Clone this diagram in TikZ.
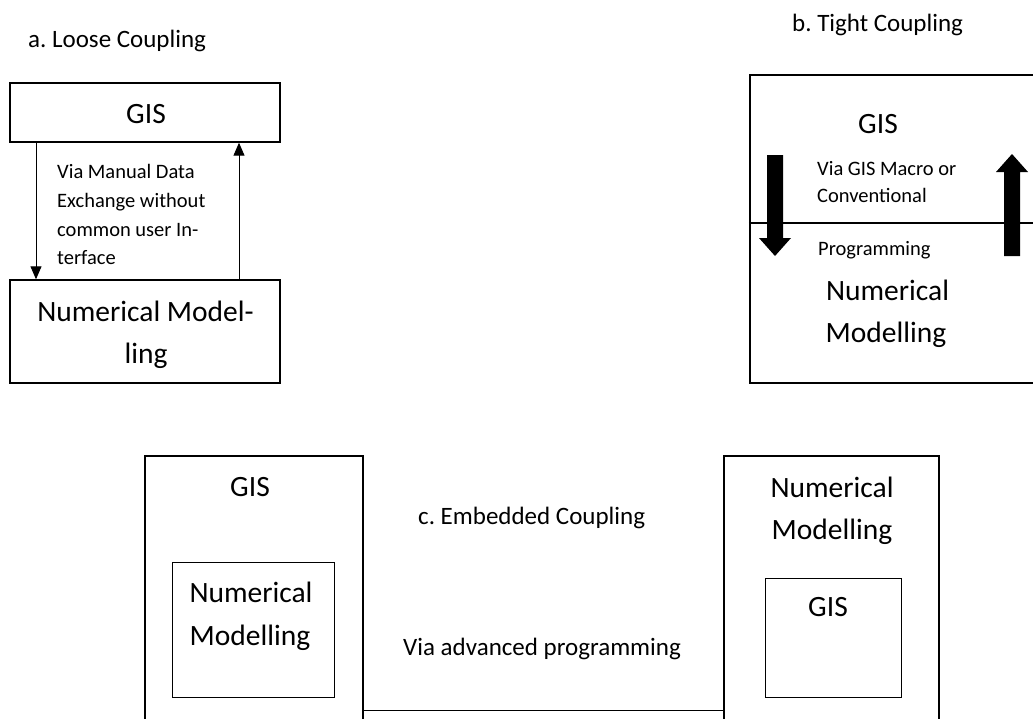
\documentclass[tikz,border=0pt]{standalone}
\usepackage{fontspec}
\setmainfont{Carlito}
\usetikzlibrary{arrows.meta}
\frenchspacing
\begin{document}
\begin{tikzpicture}[x=1pt,y=-1pt,
  box/.style={draw, line width=1.4pt, inner sep=0pt},
  thickbox/.style={draw, line width=2.2pt, inner sep=0pt},
  innerbox/.style={draw, line width=0.9pt, inner sep=0pt},
  label/.style={inner sep=0pt, font=\fontsize{25}{30}\selectfont},
  small/.style={inner sep=0pt, font=\fontsize{20.5}{25}\selectfont},
  mid/.style={inner sep=0pt, font=\fontsize{29.5}{36}\selectfont},
  thinarrow/.style={line width=1pt, -{Triangle[length=13pt,width=11pt]}}]
\clip (0,0) rectangle (1033,718);
\fill[white] (0,0) rectangle (1033,718);

% ---- a. Loose coupling ----
\node[label, anchor=base west] (ta) at (28,47) {a. Loose Coupling};
\node[box, minimum width=270pt, minimum height=59pt] (lgis) at (145,112.5) {};
\node[box, minimum width=270pt, minimum height=103pt] (lnm) at (145,331.5) {};
\node[mid, anchor=base] (lgist) at (146,123) {GIS};
\node[mid, anchor=base] (lnmt1) at (145.5,321) {Numerical Model-};
\node[mid, anchor=base] (lnmt2) at (146,363) {ling};
\node[small, anchor=base west] (lv1) at (57,178) {Via Manual Data};
\node[small, anchor=base west] (lv2) at (57,207) {Exchange without};
\node[small, anchor=base west] (lv3) at (57,236) {common user In-};
\node[small, anchor=base west] (lv4) at (57,264) {terface};
\coordinate (xd) at (36,0);
\coordinate (xu) at (239,0);
\draw[thinarrow] (lgis.south -| xd) -- (lnm.north -| xd);
\draw[thinarrow] (lnm.north -| xu) -- (lgis.south -| xu);

% ---- b. Tight coupling ----
\node[label, anchor=base west] (tb) at (792,31) {b. Tight Coupling};
\node[thickbox, minimum width=290pt, minimum height=308pt] (tbox) at (895,229) {};
\coordinate (ydiv) at (0,223);
\draw[line width=1.6pt] (tbox.west |- ydiv) -- (tbox.east |- ydiv);
\node[mid, anchor=base] (tgis) at (878,133) {GIS};
\node[small, anchor=base west] (tv1) at (817,175) {Via GIS Macro or};
\node[small, anchor=base west] (tv2) at (817,202) {Conventional};
\node[small, anchor=base west] (tv3) at (818,255) {Programming};
\node[mid, anchor=base] (tnm1) at (887.5,300) {Numerical};
\node[mid, anchor=base] (tnm2) at (886,342) {Modelling};
\fill (767,155) -- (783,155) -- (783,238) -- (791,238) -- (775,256) -- (759,238) -- (767,238) -- cycle;
\fill (1004,256) -- (1020,256) -- (1020,172) -- (1028,172) -- (1012,154) -- (996,172) -- (1004,172) -- cycle;

% ---- c. Embedded coupling ----
\node[box, minimum width=218pt, minimum height=274pt] (bl) at (254,593) {};
\node[box, minimum width=215pt, minimum height=274pt] (br) at (831.5,593) {};
\node[innerbox, minimum width=162pt, minimum height=135pt] (bli) at (253,629.5) {};
\node[innerbox, minimum width=136pt, minimum height=119pt] (bri) at (833,637.5) {};
\coordinate (yline) at (0,710);
\draw[line width=1pt] (bl.east |- yline) -- (br.west |- yline);
\node[mid, anchor=base] (blt) at (250,496) {GIS};
\node[mid, anchor=base] (blit1) at (251,602) {Numerical};
\node[mid, anchor=base] (blit2) at (250,645) {Modelling};
\node[label, anchor=base west] (tc) at (418,524) {c. Embedded Coupling};
\node[label, anchor=base west] (tvia) at (403,655) {Via advanced programming};
\node[mid, anchor=base] (brt1) at (832,497) {Numerical};
\node[mid, anchor=base] (brt2) at (832,539) {Modelling};
\node[mid, anchor=base] (brit) at (828,616) {GIS};
\end{tikzpicture}
\end{document}
